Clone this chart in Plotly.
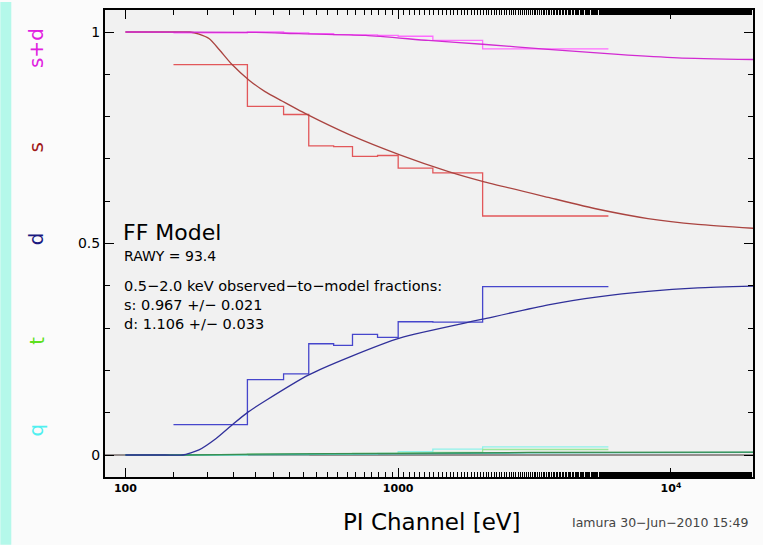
import plotly.graph_objects as go

# Energy bin edges of the observed histograms [eV]
bin_edges = [150, 280, 380, 470, 580, 680, 840, 1000, 1340, 2040, 5900]

# Observed fractions per bin
frac_sd = [0.998, 1.000, 0.998, 0.996, 0.994, 0.993, 0.992, 0.990, 0.980, 0.960]
frac_s = [0.923, 0.824, 0.805, 0.731, 0.729, 0.706, 0.708, 0.678, 0.667, 0.565]
frac_d = [0.072, 0.178, 0.192, 0.263, 0.259, 0.285, 0.278, 0.315, 0.314, 0.398]
frac_t = [0.001, 0.002, 0.002, 0.003, 0.003, 0.004, 0.004, 0.005, 0.006, 0.013]
frac_q = [0.000, 0.001, 0.001, 0.002, 0.002, 0.003, 0.004, 0.008, 0.014, 0.019]

# Model curves (FF model)
model_s_x = [100, 150, 172, 186, 203, 221, 246, 284, 325, 375, 467, 659, 1020,
             1530, 2037, 3550, 5409, 8241, 12549, 20000]
model_s = [1.000, 1.000, 1.000, 0.995, 0.984, 0.958, 0.923, 0.886, 0.859, 0.837,
           0.804, 0.758, 0.709, 0.670, 0.647, 0.609, 0.581, 0.559, 0.545, 0.536]

model_d_x = [100, 140, 162, 186, 215, 247, 282, 327, 468, 659, 1019, 2040, 3550,
             5409, 8241, 12549, 20000]
model_d = [0.000, 0.000, 0.000, 0.012, 0.039, 0.072, 0.102, 0.129, 0.189, 0.231,
           0.277, 0.321, 0.355, 0.374, 0.387, 0.395, 0.399]

model_sd_x = [100, 300, 432, 760, 1291, 2040, 3548, 6400, 10600, 20000]
model_sd = [1.000, 0.999, 0.996, 0.992, 0.980, 0.971, 0.959, 0.947, 0.939, 0.935]

model_tq_x = [100, 160, 300, 1000, 3000, 20000]
model_t = [0.000, 0.000, 0.002, 0.004, 0.006, 0.007]
model_q = [0.000, 0.000, 0.001, 0.003, 0.005, 0.006]

# Axis ticks
x_tickvals = [100, 1000, 10000]
x_ticktext = ["100", "1000", "10<sup>4</sup>"]
y_tickvals = [0, 0.5, 1]
y_ticktext = ["0", "0.5", "1"]

# Component labels along the left side
comp_labels = ["s+d", "s", "d", "t", "q"]
comp_colors = ["#e020e0", "#a01818", "#1a1a80", "#5ee020", "#50f0f0"]

FONT = "DejaVu Sans, Verdana, sans-serif"

W, H = 763, 545
ML, MR, MT, MB = 105, 8, 8, 68
PW, PH = W - ML - MR, H - MT - MB


def px(x):
    return (x - ML) / PW


def py(y):
    return (H - MB - y) / PH


def step(vals):
    return list(vals) + [vals[-1]]


fig = go.Figure()

# zero reference line
fig.add_trace(go.Scatter(x=[10 ** 1.9, 10 ** 4.4], y=[0, 0], mode="lines",
                         line=dict(color="#958e8e", width=2.2),
                         hoverinfo="skip", showlegend=False))

hist_style = [
    (frac_q, "#8ef2ea"),
    (frac_t, "#9be89b"),
    (frac_d, "#4646cc"),
    (frac_s, "#e2575a"),
    (frac_sd, "#ff6cff"),
]
for vals, col in hist_style:
    fig.add_trace(go.Scatter(x=bin_edges, y=step(vals), mode="lines",
                             line=dict(color=col, width=1.3, shape="hv"),
                             hoverinfo="skip", showlegend=False))

model_style = [
    (model_tq_x, model_q, "#3cb8b0"),
    (model_tq_x, model_t, "#3a8f50"),
    (model_d_x, model_d, "#30309a"),
    (model_s_x, model_s, "#aa4440"),
    (model_sd_x, model_sd, "#d22ad2"),
]
for xs, ys, col in model_style:
    fig.add_trace(go.Scatter(x=xs, y=ys, mode="lines",
                             line=dict(color=col, width=1.3, shape="spline",
                                       smoothing=0.6),
                             hoverinfo="skip", showlegend=False))

ann = []
# text block inside the frame
ann.append(dict(text="FF Model", x=px(121), y=py(231), font=dict(size=22)))
ann.append(dict(text="RAWY = 93.4", x=px(122), y=py(255), font=dict(size=14)))
ann.append(dict(text="0.5\u22122.0 keV observed\u2212to\u2212model fractions:",
                x=px(122), y=py(285), font=dict(size=14.5)))
ann.append(dict(text="s: 0.967 +/\u2212 0.021", x=px(122), y=py(304),
                font=dict(size=14.5)))
ann.append(dict(text="d: 1.106 +/\u2212 0.033", x=px(122), y=py(323),
                font=dict(size=14.5)))
for a in ann:
    a.update(xref="paper", yref="paper", xanchor="left", yanchor="middle",
             showarrow=False)
    a["font"].update(family=FONT, color="black")

# rotated component labels
label_y = [46, 146, 238, 340, 430]
for txt, col, yy in zip(comp_labels, comp_colors, label_y):
    ann.append(dict(text=txt, x=px(36), y=py(yy), xref="paper", yref="paper",
                    xanchor="center", yanchor="middle", textangle=-90,
                    showarrow=False, font=dict(family=FONT, size=20, color=col)))

# axis title and stamp
ann.append(dict(text="PI Channel [eV]", x=px(433), y=py(522), xref="paper",
                yref="paper", xanchor="center", yanchor="middle",
                showarrow=False, font=dict(family=FONT, size=23, color="black")))
ann.append(dict(text="Iamura 30\u2212Jun\u22122010 15:49", x=px(571), y=py(523),
                xref="paper", yref="paper", xanchor="left", yanchor="middle",
                showarrow=False, font=dict(family=FONT, size=12.5, color="#444444")))

fig.update_layout(
    width=W, height=H,
    margin=dict(l=ML, r=MR, t=MT, b=MB, pad=0),
    paper_bgcolor="#fbfbfb",
    plot_bgcolor="#f1f1f1",
    annotations=ann,
    shapes=[dict(type="rect", xref="paper", yref="paper",
                 x0=px(0), x1=px(11), y0=py(H), y1=py(0),
                 fillcolor="#b4f8ea", line=dict(width=0), layer="below")],
    font=dict(family=FONT, color="black"),
)

fig.update_xaxes(
    type="log", range=[1.925, 4.301],
    tickvals=x_tickvals, ticktext=x_ticktext,
    ticks="inside", ticklen=9, tickwidth=1.2, tickcolor="black",
    minor=dict(ticks="inside", ticklen=5, tickwidth=1, tickcolor="black",
               showgrid=False),
    showgrid=False, zeroline=False,
    showline=True, linecolor="black", linewidth=2, mirror="allticks",
    tickfont=dict(family=FONT, size=11, color="black", weight="bold"),
)
fig.update_yaxes(
    range=[-0.052, 1.052],
    tickvals=y_tickvals, ticktext=y_ticktext,
    ticks="inside", ticklen=9, tickwidth=1.2, tickcolor="black",
    minor=dict(ticks="inside", ticklen=5, tickwidth=1, tickcolor="black",
               dtick=0.1, tick0=0, showgrid=False),
    showgrid=False, zeroline=False,
    showline=True, linecolor="black", linewidth=2, mirror="allticks",
    tickfont=dict(family=FONT, size=14, color="black"),
)

fig.write_html("out.html")
